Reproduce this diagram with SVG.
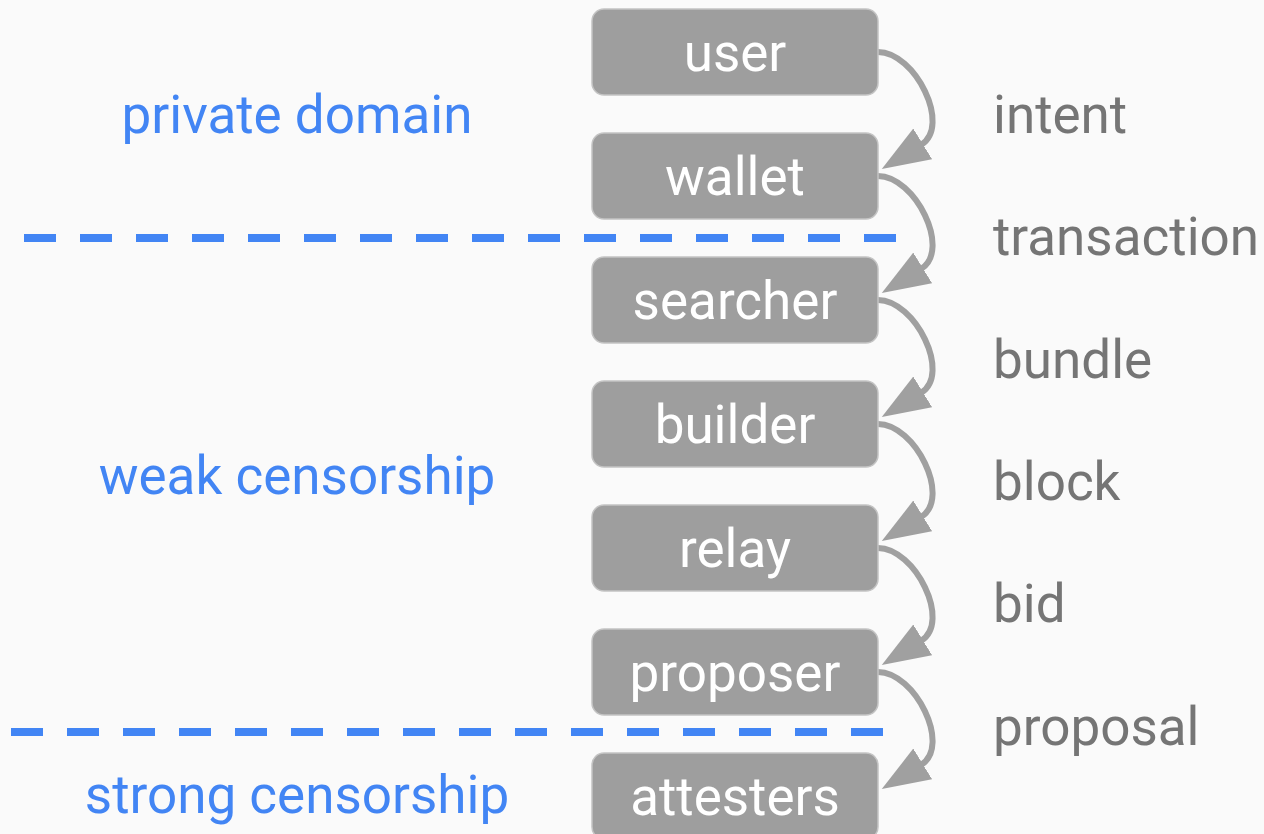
<svg xmlns="http://www.w3.org/2000/svg" width="1264" height="834" viewBox="0 0 1264 834">
<style>
.box{fill:#9e9e9e;stroke:#c4c4c4;stroke-width:1.5}
.bt{font-family:Roboto,"Liberation Sans",sans-serif;font-size:53px;fill:#ffffff;text-anchor:middle}
.rt{font-family:Roboto,"Liberation Sans",sans-serif;font-size:53px;fill:#757575}
.lt{font-family:Roboto,"Liberation Sans",sans-serif;font-size:53px;fill:#4285f4;text-anchor:middle}
.dash{stroke:#4285f4;stroke-width:8;stroke-dasharray:32 24;fill:none}
.arc{stroke:#a0a0a0;stroke-width:6;fill:none;marker-end:url(#ah)}
</style>
<defs>
<marker id="ah" markerUnits="userSpaceOnUse" markerWidth="52" markerHeight="40" viewBox="0 0 52 40" refX="2" refY="18" orient="auto">
<path d="M0,0 L48,18 L0,36 z" fill="#a0a0a0"/>
</marker>
</defs>
<rect width="1264" height="834" fill="#fafafa"/>
<g id="dividers">
<line class="dash" x1="24" y1="238" x2="896" y2="238"/>
<line class="dash" x1="11" y1="732" x2="883" y2="732"/>
</g>
<g id="zones">
<text class="lt" x="297" y="133">private domain</text>
<text class="lt" x="297" y="494">weak censorship</text>
<text class="lt" x="297" y="813">strong censorship</text>
</g>
<g id="connectors">
<path class="arc" d="M878,52 C915,52 952,126 921,145"/>
<path class="arc" d="M878,176 C915,176 952,250 921,269"/>
<path class="arc" d="M878,300 C915,300 952,374 921,393"/>
<path class="arc" d="M878,424 C915,424 952,498 921,517"/>
<path class="arc" d="M878,548 C915,548 952,622 921,641"/>
<path class="arc" d="M878,672 C915,672 952,746 921,765"/>
</g>
<g id="labels">
<text class="rt" x="993" y="133">intent</text>
<text class="rt" x="993" y="255">transaction</text>
<text class="rt" x="993" y="378">bundle</text>
<text class="rt" x="993" y="500">block</text>
<text class="rt" x="993" y="622">bid</text>
<text class="rt" x="993" y="745">proposal</text>
</g>
<g id="user"><rect class="box" x="592" y="9" width="286" height="86" rx="12"/><text class="bt" x="735" y="71">user</text></g>
<g id="wallet"><rect class="box" x="592" y="133" width="286" height="86" rx="12"/><text class="bt" x="735" y="195">wallet</text></g>
<g id="searcher"><rect class="box" x="592" y="257" width="286" height="86" rx="12"/><text class="bt" x="735" y="319">searcher</text></g>
<g id="builder"><rect class="box" x="592" y="381" width="286" height="86" rx="12"/><text class="bt" x="735" y="443">builder</text></g>
<g id="relay"><rect class="box" x="592" y="505" width="286" height="86" rx="12"/><text class="bt" x="735" y="567">relay</text></g>
<g id="proposer"><rect class="box" x="592" y="629" width="286" height="86" rx="12"/><text class="bt" x="735" y="691">proposer</text></g>
<g id="attesters"><rect class="box" x="592" y="753" width="286" height="86" rx="12"/><text class="bt" x="735" y="815">attesters</text></g>
</svg>
